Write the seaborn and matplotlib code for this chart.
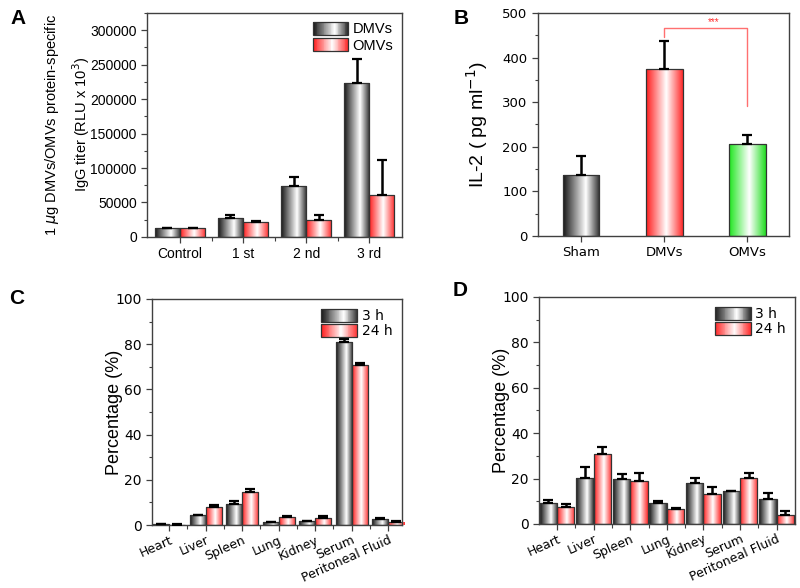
import numpy as np
import pandas as pd
import seaborn as sns
import matplotlib.pyplot as plt
from matplotlib.colors import LinearSegmentedColormap
from matplotlib.patches import Rectangle, Patch
from matplotlib.legend_handler import HandlerBase
from matplotlib.ticker import AutoMinorLocator, FixedLocator, FormatStrFormatter

# panel A - IgG titer
rounds = ['Control', '1 st', '2 nd', '3 rd']
igg_dmv = [13000, 27500, 74500, 223500]
igg_dmv_err = [500, 4000, 13000, 34000]
igg_omv = [13000, 21500, 24500, 61000]
igg_omv_err = [500, 1800, 8000, 51000]

# panel B - IL-2
il2_groups = ['Sham', 'DMVs', 'OMVs']
il2 = [137, 375, 207]
il2_err = [43, 62, 20]

# panels C / D - distribution
organs = ['Heart', 'Liver', 'Spleen', 'Lung', 'Kidney', 'Serum', 'Peritoneal Fluid']
c_3h = [0.3, 4.4, 9.4, 1.3, 1.6, 81.1, 2.9]
c_3h_err = [0.1, 0.2, 1.1, 0.2, 0.3, 1.4, 0.3]
c_24h = [0.2, 8.0, 14.6, 3.5, 3.1, 71.0, 1.5]
c_24h_err = [0.1, 1.0, 1.4, 0.3, 1.0, 0.9, 0.4]
d_3h = [9.2, 20.1, 19.8, 9.1, 18.2, 14.5, 10.8]
d_3h_err = [1.2, 4.8, 2.0, 1.1, 2.0, 0.2, 2.8]
d_24h = [7.6, 31.0, 19.0, 6.7, 13.2, 20.1, 4.0]
d_24h_err = [1.2, 2.8, 3.4, 0.2, 3.2, 2.2, 1.7]

sns.set_style('ticks')
plt.rcParams['font.family'] = ['Liberation Sans', 'DejaVu Sans']
plt.rcParams['text.color'] = 'black'
plt.rcParams['axes.labelcolor'] = 'black'
plt.rcParams['xtick.color'] = 'black'
plt.rcParams['ytick.color'] = 'black'

cm_black = LinearSegmentedColormap.from_list('blk', [(0, '#151515'), (0.62, '#ffffff'), (1, '#2a2a2a')])
cm_red = LinearSegmentedColormap.from_list('red', [(0, '#ff1a1a'), (0.55, '#ffffff'), (1, '#ff2a2a')])
cm_green = LinearSegmentedColormap.from_list('grn', [(0, '#1ee61e'), (0.55, '#ffffff'), (1, '#22dd22')])
grad = np.linspace(0, 1, 256).reshape(1, -1)


class GradHandler(HandlerBase):
    def __init__(self, cmap):
        super().__init__()
        self.cmap = cmap

    def create_artists(self, legend, orig_handle, xdescent, ydescent, width, height, fontsize, trans):
        arts = []
        n = 40
        for i in range(n):
            arts.append(Rectangle((-xdescent + width * i / n, -ydescent), width / n * 1.1, height,
                                  facecolor=self.cmap((i + 0.5) / n), edgecolor='none', transform=trans))
        arts.append(Rectangle((-xdescent, -ydescent), width, height, facecolor='none',
                              edgecolor='#333333', lw=0.9, transform=trans))
        return arts


def shade(ax, container, cmaps, errs):
    xs, ys = [], []
    for p, cm in zip(container.patches, cmaps):
        x0, w, h = p.get_x(), p.get_width(), p.get_height()
        p.set_facecolor('none')
        p.set_edgecolor('#333333')
        p.set_linewidth(0.9)
        p.set_zorder(2)
        im = ax.imshow(grad, cmap=cm, aspect='auto', extent=[x0, x0 + w, 0, h], zorder=1.5)
        im.set_clip_path(p)
        xs.append(x0 + w / 2)
        ys.append(h)
    ax.errorbar(xs, ys, yerr=[np.zeros(len(errs)), errs], fmt='none', ecolor='black',
                elinewidth=1.8, capsize=3.5, capthick=1.6, zorder=3)


def style(ax):
    for s in ax.spines.values():
        s.set_color('#404040')
        s.set_linewidth(1.0)
    ax.yaxis.set_minor_locator(AutoMinorLocator(2))
    ax.tick_params(axis='both', which='major', direction='out', length=4, width=0.9, color='#404040')
    ax.tick_params(axis='y', which='minor', direction='out', length=2.5, width=0.8, color='#404040')
    ax.tick_params(axis='x', which='minor', direction='out', length=3, width=0.8, color='#404040')
    ax.set_xlabel('')


fig = plt.figure(figsize=(8, 5.88), dpi=100)

# ---- A
axA = fig.add_axes([0.184, 0.597, 0.3185, 0.381])
dfA = pd.DataFrame({'round': rounds * 2, 'titer': igg_dmv + igg_omv,
                    'vesicle': ['DMVs'] * 4 + ['OMVs'] * 4})
sns.barplot(data=dfA, x='round', y='titer', hue='vesicle', width=0.8, errorbar=None,
            legend=False, ax=axA)
shade(axA, axA.containers[0], [cm_black] * 4, igg_dmv_err)
shade(axA, axA.containers[1], [cm_red] * 4, igg_omv_err)
axA.set_xlim(-0.52, 3.52)
axA.set_ylim(0, 325000)
axA.set_yticks(np.arange(0, 300001, 50000))
axA.yaxis.set_major_formatter(FormatStrFormatter('%d'))
style(axA)
axA.xaxis.set_minor_locator(FixedLocator([0.5, 1.5, 2.5]))
axA.tick_params(labelsize=10)
axA.set_ylabel('1 $\\mu$g DMVs/OMVs protein-specific\nIgG titer (RLU x 10$^3$)', fontsize=10.5,
               linespacing=1.6)
axA.yaxis.set_label_coords(-0.215, 0.5)
hA = [Patch(), Patch()]
axA.legend(hA, ['DMVs', 'OMVs'], handler_map={hA[0]: GradHandler(cm_black), hA[1]: GradHandler(cm_red)},
           loc='upper right', frameon=False, fontsize=10.5, handlelength=2.4, handleheight=1.0,
           labelspacing=0.15, handletextpad=0.3, borderaxespad=0.2)

# ---- B
axB = fig.add_axes([0.6725, 0.599, 0.3135, 0.379])
sns.barplot(x=il2_groups, y=il2, hue=il2_groups, width=0.44, errorbar=None, legend=False, ax=axB)
for cont, cm, e in zip(axB.containers, [cm_black, cm_red, cm_green], il2_err):
    shade(axB, cont, [cm], [e])
axB.plot([1, 1, 2, 2], [446, 466, 466, 291], color='#ff7070', lw=1.0, zorder=3)
axB.text(1.6, 480, '***', color='#ff3030', fontsize=7, ha='center', va='center')
axB.set_xlim(-0.52, 2.5)
axB.set_ylim(0, 500)
axB.set_yticks(np.arange(0, 501, 100))
style(axB)
for t in axB.get_xticklabels() + axB.get_yticklabels():
    t.set_family('DejaVu Sans')
axB.tick_params(labelsize=9.5)
axB.set_ylabel('IL-2 ( pg ml$^{-1}$)', fontsize=14)
axB.yaxis.set_label_coords(-0.19, 0.5)


def organ_panel(rect, v3, e3, v24, e24, width, xlim, label_x):
    ax = fig.add_axes(rect)
    df = pd.DataFrame({'organ': organs * 2, 'pct': v3 + v24,
                       'time': ['3 h'] * 7 + ['24 h'] * 7})
    sns.barplot(data=df, x='organ', y='pct', hue='time', width=width, errorbar=None,
                legend=False, ax=ax)
    shade(ax, ax.containers[0], [cm_black] * 7, e3)
    shade(ax, ax.containers[1], [cm_red] * 7, e24)
    ax.set_xlim(*xlim)
    ax.set_ylim(0, 100)
    ax.set_yticks(np.arange(0, 101, 20))
    style(ax)
    ax.xaxis.set_minor_locator(FixedLocator(np.arange(0.5, 6, 1.0)))
    for t in ax.get_xticklabels() + ax.get_yticklabels():
        t.set_family('DejaVu Sans')
    ax.tick_params(axis='y', labelsize=10)
    ax.tick_params(axis='x', labelsize=9, pad=2)
    for t in ax.get_xticklabels():
        t.set_rotation(24)
        t.set_ha('right')
        t.set_rotation_mode('anchor')
    ax.set_ylabel('Percentage (%)', fontsize=13)
    ax.yaxis.set_label_coords(label_x, 0.5)
    h = [Patch(), Patch()]
    ax.legend(h, ['3 h', '24 h'], handler_map={h[0]: GradHandler(cm_black), h[1]: GradHandler(cm_red)},
              loc='upper right', frameon=False, handlelength=2.6, handleheight=1.05,
              labelspacing=0.1, handletextpad=0.3, borderaxespad=0.3,
              prop={'family': 'DejaVu Sans', 'size': 10})
    return ax


axC = organ_panel([0.19, 0.107, 0.3125, 0.3845], c_3h, c_3h_err, c_24h, c_24h_err,
                  0.88, (-0.47, 6.38), -0.116)
axD = organ_panel([0.674, 0.109, 0.32, 0.386], d_3h, d_3h_err, d_24h, d_24h_err,
                  0.95, (-0.49, 6.51), -0.113)

for lab, x, y in [('A', 18, 18), ('B', 461, 18), ('C', 17, 299), ('D', 460, 290)]:
    fig.text(x / 800, 1 - y / 588, lab, fontsize=15, fontweight='bold', ha='center', va='center')

fig.savefig('out.png', dpi=100)
